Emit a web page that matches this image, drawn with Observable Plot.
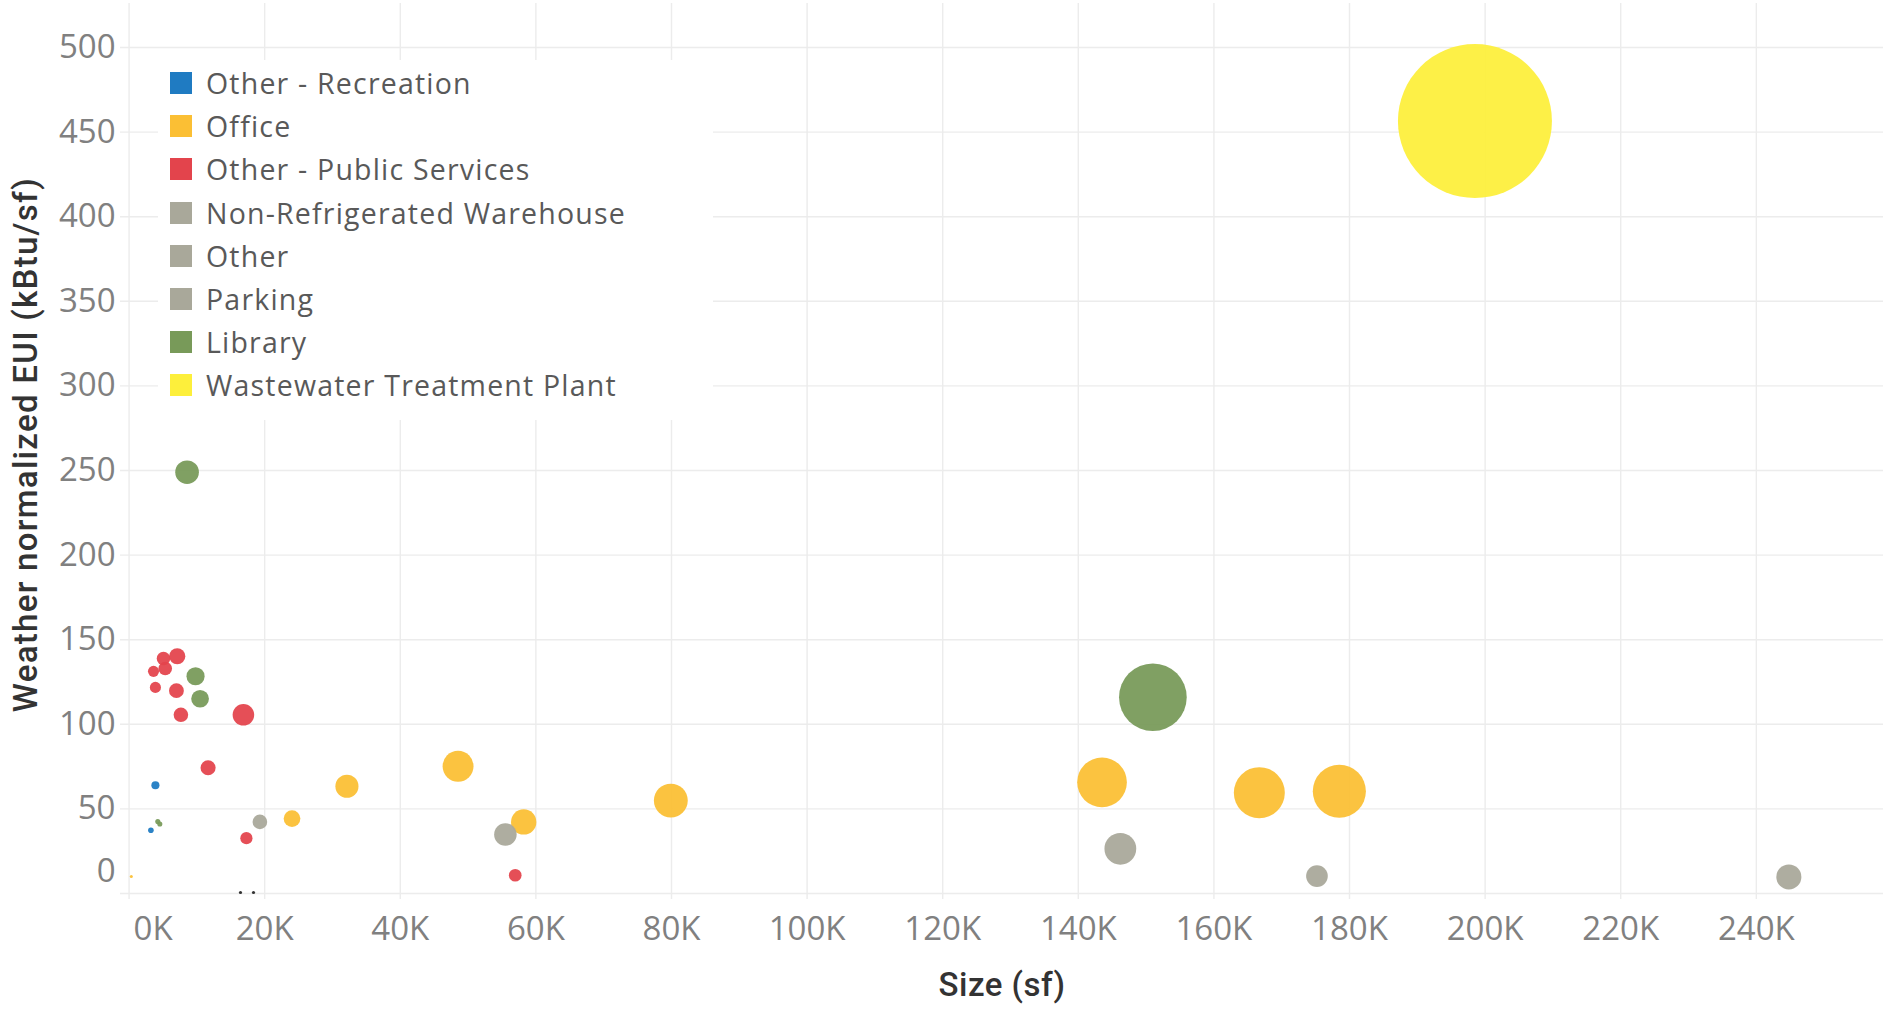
<!DOCTYPE html>
<html>
<head>
<meta charset="utf-8">
<script src="https://cdn.jsdelivr.net/npm/d3@7"></script>
<script src="https://cdn.jsdelivr.net/npm/@observablehq/plot@0.6"></script>
<style>
  html, body { margin: 0; padding: 0; background: #fff; }
  #wrap { position: relative; width: 1883px; height: 1009px; overflow: hidden; }
  #legend { position: absolute; left: 158px; top: 60px; width: 555px; height: 360px; background: #fff;
            font-family: "Open Sans", sans-serif; font-size: 28.5px; letter-spacing: 1.2px; color: #595959; }
  .item { position: absolute; left: 12px; height: 30px; display: flex; align-items: center; white-space: nowrap; }
  .sw { width: 22px; height: 22px; margin-right: 14px; flex: none; }
</style>
</head>
<body>
<div id="wrap"><div id="chart"></div><div id="legend"></div></div>
<script>
// Legend categories and their colours
const categories = ["Other - Recreation", "Office", "Other - Public Services", "Non-Refrigerated Warehouse", "Other", "Parking", "Library", "Wastewater Treatment Plant"];
const colors = ["#1F7BC2", "#FBBF34", "#E3444C", "#A9A89A", "#A9A89A", "#A9A89A", "#789A59", "#FDEF3B"];

// Buildings: type, size (sf), weather normalized EUI (kBtu/sf), total energy (MBtu, mark size)
const bType = [
  "Wastewater Treatment Plant", "Library", "Office", "Parking", "Office", "Office", "Other", "Parking", "Office",
  "Library",
  "Other - Public Services", "Other - Public Services", "Other - Public Services", "Other - Public Services",
  "Other - Public Services", "Other - Public Services", "Other - Public Services", "Other - Public Services",
  "Other - Public Services", "Other - Public Services", "Other - Public Services",
  "Library", "Library", "Library", "Library",
  "Other - Recreation", "Other - Recreation",
  "Other", "Non-Refrigerated Warehouse",
  "Office", "Office", "Office", "Office", "Office"
];
const bSize = [
  198500, 151000, 143500, 146200, 166700, 178500, 175200, 244800, 79900,
  8550,
  3600, 5070, 5330, 7100, 3880, 6980, 7640, 16860, 11650, 17300, 56950,
  9800, 10470, 4230, 4530,
  3880, 3215,
  19290, 55500,
  24030, 32130, 48520, 58200, 325
];
const bEUI = [
  456.5, 116, 65.7, 26.4, 59.6, 60.4, 10.3, 9.8, 54.9,
  249,
  131.3, 138.9, 133, 140.2, 121.8, 119.9, 105.6, 105.6, 74.3, 32.7, 10.8,
  128.4, 115.1, 42.5, 41.1,
  64, 37.4,
  42.3, 34.9,
  44.3, 63.4, 75.2, 42.3, 10
];
const bEnergy = [
  90600, 17500, 9430, 3860, 9930, 10780, 1800, 2400, 4390,
  2130,
  470, 700, 710, 1000, 470, 840, 810, 1780, 870, 570, 615,
  1260, 1200, 100, 100,
  250, 120,
  820, 1940,
  1065, 2040, 3650, 2460, 35
];
// two tiny unlabelled marks on the zero line
const nullSize = [16430, 18350];
const nullEUI = [0.6, 0.6];

const xTicks = [0, 20000, 40000, 60000, 80000, 100000, 120000, 140000, 160000, 180000, 200000, 220000, 240000];
const yTicks = [0, 50, 100, 150, 200, 250, 300, 350, 400, 450, 500];
const xDomain = [-1268, 258760];
const yDomain = [0, 526];

const xTitle = "Size (sf)";
const yTitle = "Weather normalized EUI (kBtu/sf)";

const data = bType.map((t, i) => ({type: t, sf: bSize[i], eui: bEUI[i], energy: bEnergy[i]}));
const nulls = nullSize.map((s, i) => ({sf: s, eui: nullEUI[i]}));

const tickFont = {fontSize: 33, fill: "#808080", fontFamily: "Open Sans"};
const fmtK = d => (d / 1000) + "K";

const chart = Plot.plot({
  width: 1883, height: 1009,
  marginLeft: 120, marginRight: 0, marginTop: 3, marginBottom: 116,
  x: {domain: xDomain},
  y: {domain: yDomain},
  r: {type: "sqrt", domain: [0, 90600], range: [0, 77]},
  color: {domain: categories, range: colors},
  style: {fontFamily: "Open Sans", background: "#fff", overflow: "visible"},
  marks: [
    Plot.ruleY(yTicks, {y: d => d, stroke: "#ececec", strokeWidth: 1.4}),
    Plot.ruleX(xTicks, {x: d => d, stroke: "#ececec", strokeWidth: 1.4, insetBottom: -6}),
    Plot.axisX(xTicks.slice(1), {tickSize: 0, tickPadding: 23, tickFormat: fmtK, label: null, ...tickFont}),
    Plot.axisX([xTicks[0]], {tickSize: 0, tickPadding: 23, tickFormat: fmtK, label: null, dx: 24, ...tickFont}),
    Plot.axisY(yTicks.slice(1), {tickSize: 0, tickPadding: 5, label: null, ...tickFont}),
    Plot.axisY([yTicks[0]], {tickSize: 0, tickPadding: 5, label: null, dy: -22, ...tickFont}),
    Plot.dot(data, {x: "sf", y: "eui", r: "energy", fill: "type", fillOpacity: 0.94}),
    Plot.dot(nulls, {x: "sf", y: "eui", r: 1.6, fill: "#333"}),
    Plot.text([xTitle], {frameAnchor: "bottom", dy: 92, fontSize: 33, fontWeight: 500, fill: "#333", fontFamily: "Roboto", lineAnchor: "middle", textAnchor: "middle"}),
    Plot.text([yTitle], {frameAnchor: "left", dx: -94, dy: -4, rotate: -90, fontSize: 33, fontWeight: 500, fill: "#333", fontFamily: "Roboto", lineAnchor: "middle", textAnchor: "middle"})
  ]
});
// letter spacing of the axis titles
d3.select(chart).selectAll("text").each(function() {
  const t = this.textContent;
  if (t === yTitle) this.style.letterSpacing = "1.3px";
  if (t === xTitle) this.style.letterSpacing = "0.5px";
});
document.getElementById("chart").appendChild(chart);

const legend = document.getElementById("legend");
categories.forEach((c, i) => {
  const item = document.createElement("div");
  item.className = "item";
  item.style.top = (23 + 43.2 * i - 15) + "px";
  const sw = document.createElement("div");
  sw.className = "sw";
  sw.style.background = colors[i];
  const tx = document.createElement("span");
  tx.textContent = c;
  item.appendChild(sw);
  item.appendChild(tx);
  legend.appendChild(item);
});
</script>
</body>
</html>
